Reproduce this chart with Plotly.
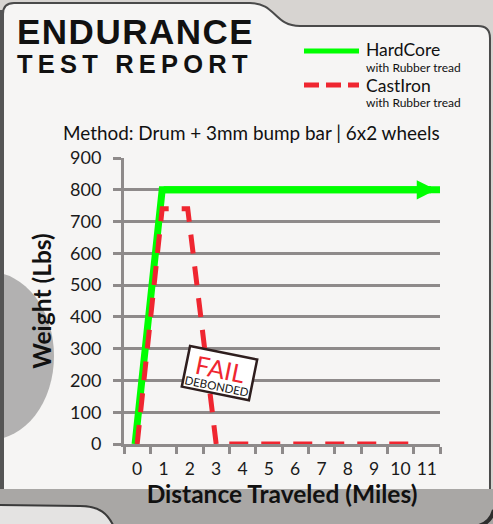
import plotly.graph_objects as go

# ---------------- data ----------------
x_tick_labels = [str(i) for i in range(12)]
x_tick_vals = list(range(12))
y_tick_vals = list(range(0, 901, 100))

hardcore_x = [-0.08, 0.95, 11.5]
hardcore_y = [0, 800, 800]

castiron_x = [0, 0.95, 1.92, 3.0, 10.5]
castiron_y = [0, 740, 740, 0, 0]

series_names = ["HardCore", "CastIron"]
series_sub = "with Rubber tread"
title_1 = "ENDURANCE"
title_2 = "TEST REPORT"
method_text = "Method: Drum + 3mm bump bar | 6x2 wheels"
x_title = "Distance Traveled (Miles)"
y_title = "Weight (Lbs)"
fail_text = "FAIL"
fail_sub = "DEBONDED"

GREEN = "#00ff00"
RED = "#ef2630"
GRID = "#8e8a8a"
FONT = "Lato"

# ---------------- geometry helpers (styling only) ----------------
W_FIG, H_FIG = 493, 524
L, R, T, B = 124, 53, 158, 80
PW = W_FIG - L - R
PH = H_FIG - T - B
BOT = H_FIG - B


def px(x):
    return (x - L) / PW


def py(y):
    return (BOT - y) / PH


def P(x, y):
    return f"{px(x):.4f},{py(y):.4f}"


fig = go.Figure()

fig.add_trace(go.Scatter(
    x=hardcore_x, y=hardcore_y, mode="lines", name=series_names[0],
    line=dict(color=GREEN, width=7, backoff=[0, 0, 10]),
    hoverinfo="skip",
))
fig.add_trace(go.Scatter(
    x=castiron_x, y=castiron_y, mode="lines", name=series_names[1],
    line=dict(color=RED, width=5, dash="19px,13px"),
    hoverinfo="skip",
))

shapes = []
# main panel
panel = (f"M{P(3,490)} L{P(3,14)} Q{P(3,3)} {P(14,3)} L{P(250,3)} "
         f"C{P(276,3)} {P(274,26)} {P(300,26)} L{P(478,26)} Q{P(490,26)} {P(490,38)} "
         f"L{P(490,490)} Z")
shapes.append(dict(type="path", path=panel, xref="paper", yref="paper",
                   fillcolor="#f6f5f4", line=dict(color="#4a4a4a", width=2), layer="below"))
# wheel shadow on the left
shapes.append(dict(type="circle", xref="paper", yref="paper",
                   x0=px(-75), x1=px(54), y0=py(440), y1=py(272),
                   fillcolor="rgba(95,95,95,0.45)", line=dict(width=0), layer="below"))
shapes.append(dict(type="rect", xref="paper", yref="paper",
                   x0=px(0), x1=px(4), y0=py(500), y1=py(10),
                   fillcolor="#555555", line=dict(width=0), layer="below"))
# bottom band
shapes.append(dict(type="rect", xref="paper", yref="paper",
                   x0=px(-2), x1=px(W_FIG + 2), y0=py(H_FIG + 2), y1=py(489),
                   fillcolor="#a9a7a5", line=dict(width=0), layer="below"))
# lower-left tab of the next panel
tab = f"M{P(-3,505)} L{P(80,506)} C{P(100,506)} {P(108,514)} {P(114,527)} L{P(-3,527)} Z"
shapes.append(dict(type="path", path=tab, xref="paper", yref="paper",
                   fillcolor="#e4e3e2", line=dict(color="#3a3a3a", width=2), layer="below"))
# bottom-right corner
corner = f"M{P(474,527)} Q{P(490,525)} {P(494,510)}"
shapes.append(dict(type="path", path=corner, xref="paper", yref="paper",
                   line=dict(color="#2e2e2e", width=4), layer="below"))

# custom legend samples
shapes.append(dict(type="line", xref="paper", yref="paper",
                   x0=px(304), x1=px(359), y0=py(51), y1=py(51),
                   line=dict(color=GREEN, width=5), layer="above"))
shapes.append(dict(type="line", xref="paper", yref="paper",
                   x0=px(304), x1=px(359), y0=py(85), y1=py(85),
                   line=dict(color=RED, width=5, dash="15px,7px"), layer="above"))

annotations = []


def ann(text, x, y, size, xanchor="left", yanchor="middle", color="#111111",
        family=FONT, **kw):
    d = dict(text=text, xref="paper", yref="paper", x=px(x), y=py(y),
             xanchor=xanchor, yanchor=yanchor, showarrow=False,
             font=dict(size=size, color=color, family=family))
    d.update(kw)
    annotations.append(d)


ann(f"<b><span style='letter-spacing:1.5px'>{title_1}</span></b>", 15, 32, 35,
    family="Liberation Sans")
ann(f"<b><span style='letter-spacing:5.2px'>{title_2}</span></b>", 15, 64, 25.5,
    family="Liberation Sans")

for name, yc_name, yc_sub in zip(series_names, [49.5, 85.0], [67.6, 102.6]):
    ann(name, 364, yc_name, 17.5)
    ann(series_sub, 364, yc_sub, 12)

ann(method_text, 251, 133, 18.9, xanchor="center")

# arrow head at the end of the HardCore series
annotations.append(dict(
    x=hardcore_x[-1], y=hardcore_y[-1], ax=hardcore_x[-2], ay=hardcore_y[-2],
    xref="x", yref="y", axref="x", ayref="y", text="", showarrow=True,
    arrowhead=2, arrowsize=0.55, arrowwidth=7, arrowcolor=GREEN, standoff=4,
))

# FAIL stamp
annotations.append(dict(
    text=(f"<span style='font-size:25px;color:{RED}'>{fail_text}</span><br>"
          f"<span style='font-size:11.5px;color:#111'>{fail_sub}</span>"),
    xref="paper", yref="paper", x=px(219), y=py(373), xanchor="center", yanchor="middle",
    showarrow=False, textangle=11.5, bgcolor="#ffffff", bordercolor="#2e1e1e",
    borderwidth=2.5, borderpad=0, width=66, height=39,
    font=dict(size=9.5, family=FONT, color="#111"),
))

fig.update_layout(
    width=W_FIG, height=H_FIG,
    margin=dict(l=L, r=R, t=T, b=B, pad=0, autoexpand=False),
    paper_bgcolor="#d7d4d1",
    plot_bgcolor="rgba(0,0,0,0)",
    showlegend=False,
    shapes=shapes,
    annotations=annotations,
    font=dict(family=FONT, color="#1a1a1a"),
    xaxis=dict(
        range=[-0.5, 11.5], tickmode="array", tickvals=x_tick_vals, ticktext=x_tick_labels,
        ticks="", showgrid=False, zeroline=False, showline=True, linecolor=GRID, linewidth=3,
        tickfont=dict(size=17.5, family=FONT, color="#1a1a1a"), ticklabelstandoff=7,
        minor=dict(tickmode="array", tickvals=[v - 0.5 for v in x_tick_vals] + [x_tick_vals[-1] + 0.5],
                   ticks="outside", ticklen=7, tickwidth=3, tickcolor=GRID, showgrid=False),
        title=dict(text=f"<b>{x_title}</b>", font=dict(size=24.5, family=FONT, color="#111"),
                   standoff=2),
        automargin=False, fixedrange=True,
    ),
    yaxis=dict(
        range=[0, 900], tickmode="array", tickvals=y_tick_vals,
        ticks="outside", ticklen=8, tickwidth=3, tickcolor=GRID,
        showgrid=True, gridcolor=GRID, gridwidth=3, zeroline=False,
        showline=True, linecolor=GRID, linewidth=3,
        tickfont=dict(size=18, family=FONT, color="#1a1a1a"), ticklabelstandoff=8,
        title=dict(text=f"<b>{y_title}</b>", font=dict(size=24.5, family=FONT, color="#111"),
                   standoff=12),
        automargin=False, fixedrange=True,
    ),
)

fig.write_html("out.html", config={"displayModeBar": False},
               post_script="document.body.style.margin='0';document.body.style.padding='0';")
